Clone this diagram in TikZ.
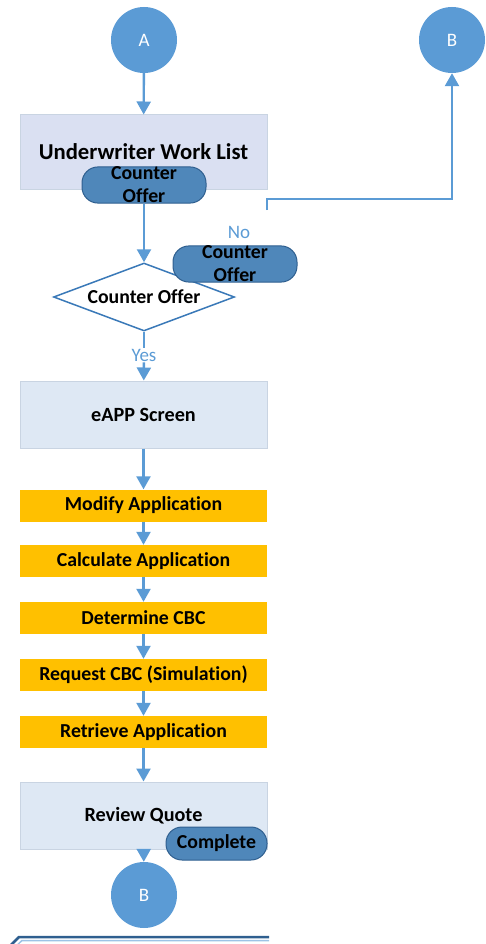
\documentclass[tikz,border=0pt]{standalone}
\usepackage{fontspec}
\setmainfont{Carlito}[Ligatures=NoCommon]
\usetikzlibrary{positioning,calc,arrows.meta,shapes.geometric}
\definecolor{circblue}{HTML}{5B9BD5}
\definecolor{pillblue}{HTML}{4F87BA}
\definecolor{pilledge}{HTML}{2F5F8F}
\definecolor{uwlfill}{HTML}{DAE0F2}
\definecolor{procfill}{HTML}{DEE8F4}
\definecolor{procedge}{HTML}{C9D4E2}
\definecolor{taskfill}{HTML}{FFC000}
\definecolor{decedge}{HTML}{3A79B8}
\tikzstyle{edge} = [-{Triangle[width=14pt,length=13pt]}, draw=circblue, line width=2.4pt]
\tikzstyle{link} = [draw=circblue, line width=2.4pt]
\tikzstyle{conn} = [circle, fill=circblue, minimum size=66pt, inner sep=0pt, text=white, font=\fontsize{19}{21}\selectfont]
\tikzstyle{proc} = [rectangle, fill=procfill, draw=procedge, line width=1pt, minimum width=247pt, minimum height=67pt, font=\bfseries\fontsize{20.2}{23}\selectfont]
\tikzstyle{task} = [rectangle, fill=taskfill, minimum width=247pt, minimum height=32pt, inner sep=0pt, font=\bfseries\fontsize{19.8}{22}\selectfont]
\tikzstyle{pill} = [rectangle, rounded corners=16pt, fill=pillblue, draw=pilledge, line width=1pt, minimum height=34pt, inner sep=0pt, align=center, font=\bfseries\fontsize{19.8}{23}\selectfont]
\tikzstyle{tag} = [text=circblue, inner sep=1pt, font=\fontsize{19}{21}\selectfont]

\begin{document}
\begin{tikzpicture}[x=1pt, y=-1pt]
\useasboundingbox (0,0) rectangle (485,944);
	\node[conn] (A) at (144, 40) {A};
	\node[conn] (B2) at (452, 40) {B};
	\node[proc, fill=uwlfill, minimum height=74pt] (uwl) at (143.5, 152) {};
	\node[font=\bfseries\fontsize{22.7}{25}\selectfont] (uwltext) at (143.5, 152) {Underwriter Work List};
	\node[pill, minimum width=124pt] (co) at (144, 185) {Counter\\Offer};
	\node[diamond, aspect=2.66, draw=decedge, fill=white, line width=1.5pt, minimum width=181pt, minimum height=68pt, inner sep=0pt, font=\bfseries\fontsize{19.8}{22}\selectfont] (dec) at (144, 297) {Counter Offer};
	\node[tag] (no) at (239, 232) {No};
	\node[pill, minimum width=124pt] (noco) at (235, 264) {Counter\\Offer};
	\node[tag] (yes) at (144, 355) {Yes};
	\node[proc] (eapp) at (143.5, 414.5) {eAPP Screen};
	\node[task] (modify) at (143.5, 505.5) {Modify Application};
	\node[task] (calc) at (143.5, 561) {Calculate Application};
	\node[task] (cbc) at (143.5, 618) {Determine CBC};
	\node[task] (req) at (143.5, 675) {Request CBC (Simulation)};
	\node[task] (ret) at (143.5, 732) {Retrieve Application};
	\node[proc] (review) at (143.5, 815.5) {Review Quote};
	\node[pill, minimum width=101pt, minimum height=33pt] (done) at (216.5, 843.5) {Complete};
	\node[conn] (B) at (144, 895) {B};
	\coordinate (noend) at (267, 210);
	\coordinate (bend) at (452, 199);

	\draw[edge] (A) -- (uwl);
	\draw[edge] (co) -- (dec);
	\draw[edge] (noend) |- (bend) -- (B2);
	\draw[link] (dec.south) -- (yes);
	\draw[edge] (yes) -- (eapp);
	\draw[edge] (eapp) -- (modify);
	\draw[edge] (modify) -- (calc);
	\draw[edge] (calc) -- (cbc);
	\draw[edge] (cbc) -- (req);
	\draw[edge] (req) -- (ret);
	\draw[edge] (ret) -- (review);
	\draw[edge] (review) -- (B);
	% partial shape at the bottom edge
	\draw[draw=pilledge, line width=2.5pt] (6, 950) -- (19, 937) -- (269, 937);
	\draw[draw=circblue!60, line width=1.5pt] (12, 950) -- (22, 940.5) -- (269, 940.5);
\end{tikzpicture}
\end{document}
